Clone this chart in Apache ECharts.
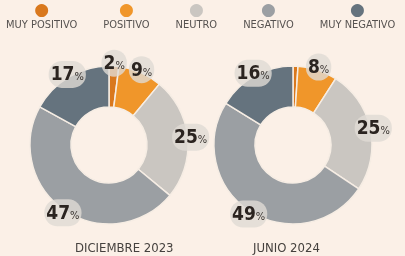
<!DOCTYPE html>
<html>
<head>
<meta charset="utf-8">
<script src="https://cdn.jsdelivr.net/npm/echarts@6/dist/echarts.min.js"></script>
<style>
  html, body {margin: 0; padding: 0; background: #fbf0e7;}
  #chart {width: 405px; height: 256px;}
</style>
</head>
<body>
<div id="chart"></div>
<script>
let categories = ['MUY POSITIVO', 'POSITIVO', 'NEUTRO', 'NEGATIVO', 'MUY NEGATIVO'];
let dic2023 = [2, 9, 25, 47, 17];
let jun2024 = [1, 8, 25, 49, 16];
let periods = ['DICIEMBRE 2023', 'JUNIO 2024'];

let Colors = ['#d9781d', '#f0962a', '#cac6c1', '#9b9fa3', '#65737e'];
let font = '"DejaVu Sans"';
let narrow = 'condensed';

let toData = function (values) {
  return values.map((v, i) => ({name: categories[i], value: v}));
};

// anillo
let ring = function (values, cx) {
  return {
    type: 'pie',
    center: [cx, 145],
    radius: [38, 79],
    startAngle: 90,
    clockwise: true,
    silent: true,
    label: {show: false},
    labelLine: {show: false},
    itemStyle: {borderColor: '#f6ede4', borderWidth: 1.5},
    data: toData(values)
  };
};

// etiquetas sobre el borde exterior
let labels = function (values, cx) {
  return {
    type: 'pie',
    center: [cx, 145],
    radius: [70, 88],
    startAngle: 90,
    clockwise: true,
    silent: true,
    itemStyle: {color: 'transparent'},
    labelLine: {show: false},
    label: {
      show: true,
      position: 'inside',
      formatter: p => '{n|' + p.value + '}{p|%}',
      backgroundColor: 'rgba(224,219,213,0.8)',
      borderRadius: 13,
      padding: [5, 2, 3, 2],
      rich: {
        n: {fontFamily: font, fontStyle: narrow, fontWeight: 'bold', fontSize: 19, color: '#2b2420'},
        p: {fontFamily: font, fontStyle: narrow, fontSize: 11, color: '#3a3430', padding: [4, 0, 0, 0]}
      }
    },
    data: toData(values)
  };
};

let rich = {t: {fontFamily: font, fontStyle: narrow, fontSize: 11, color: '#565250', align: 'center', lineHeight: 14}};
Colors.forEach((c, i) => {
  rich['d' + i] = {color: c, fontSize: 17, lineHeight: 15, align: 'center', fontFamily: 'DejaVu Sans'};
});

let titleStyle = {fontFamily: font, fontStyle: narrow, fontSize: 13, fontWeight: 'normal', color: '#45413e'};

let option = {
  backgroundColor: '#fbf0e7',
  animation: false,
  color: Colors,
  legend: {
    data: categories,
    left: -4,
    top: -3,
    width: 430,
    icon: 'none',
    itemWidth: 0,
    itemHeight: 30,
    itemGap: 21,
    selectedMode: false,
    formatter: name => '{d' + categories.indexOf(name) + '|●}\n{t|' + name + '}',
    textStyle: {rich: rich}
  },
  title: [
    {text: periods[0], left: 70, top: 237, textStyle: titleStyle},
    {text: periods[1], left: 248, top: 237, textStyle: titleStyle}
  ],
  series: [
    ring(dic2023, 109),
    ring(jun2024, 293),
    labels(dic2023, 109),
    labels(jun2024, 293)
  ]
};

let myChart = echarts.init(document.getElementById('chart'));
myChart.setOption(option);
</script>
</body>
</html>
